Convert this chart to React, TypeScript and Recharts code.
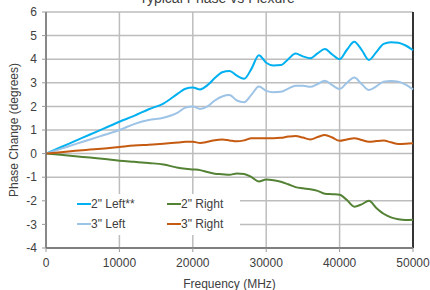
import React from 'react';
import {
  CartesianGrid,
  Label,
  Line,
  LineChart,
  ReferenceLine,
  XAxis,
  YAxis,
} from 'recharts';

const freq = [
  0, 2000, 4000, 6000, 8000, 10000, 12000, 14000, 16000, 18000, 19000, 20000, 21000, 22000,
  23000, 24000, 25000, 26000, 27000, 28000, 29000, 30000, 31000, 32000, 33000, 34000, 35000,
  36000, 37000, 38000, 39000, 40000, 41000, 42000, 43000, 44000, 45000, 46000, 47000, 48000,
  49000, 50000,
];

const left2 = [
  0, 0.27, 0.54, 0.81, 1.08, 1.35, 1.6, 1.88, 2.12, 2.55, 2.75, 2.8, 2.72, 2.9, 3.2, 3.45,
  3.5, 3.3, 3.17, 3.6, 4.17, 3.85, 3.73, 3.75, 4.0, 4.24, 4.12, 4.04, 4.25, 4.43, 4.2, 4.0,
  4.4, 4.74, 4.4, 3.97, 4.3, 4.65, 4.72, 4.7, 4.58, 4.38,
];

const left3 = [
  0, 0.2, 0.4, 0.6, 0.8, 1.0, 1.25, 1.42, 1.52, 1.75, 1.95, 2.0, 1.89, 2.0, 2.25, 2.42,
  2.48, 2.25, 2.18, 2.5, 2.84, 2.66, 2.6, 2.62, 2.75, 2.88, 2.88, 2.83, 2.95, 3.09, 2.9,
  2.74, 3.0, 3.22, 2.95, 2.7, 2.85, 3.05, 3.08, 3.05, 2.92, 2.72,
];

const right2 = [
  0, -0.05, -0.11, -0.17, -0.23, -0.3, -0.35, -0.4, -0.46, -0.6, -0.64, -0.67, -0.7, -0.78,
  -0.85, -0.87, -0.9, -0.84, -0.86, -1.0, -1.18, -1.1, -1.13, -1.19, -1.3, -1.42, -1.47,
  -1.51, -1.58, -1.7, -1.72, -1.74, -1.97, -2.25, -2.15, -2.0, -2.3, -2.55, -2.7, -2.78,
  -2.81, -2.8,
];

const right3 = [
  0, 0.06, 0.12, 0.17, 0.22, 0.28, 0.34, 0.38, 0.42, 0.47, 0.5, 0.5, 0.45, 0.5, 0.57, 0.6,
  0.56, 0.52, 0.56, 0.65, 0.65, 0.65, 0.65, 0.67, 0.72, 0.75, 0.68, 0.6, 0.7, 0.79, 0.68,
  0.54, 0.6, 0.65, 0.58, 0.5, 0.53, 0.55, 0.48, 0.41, 0.42, 0.44,
];

const xTicks = [0, 10000, 20000, 30000, 40000, 50000];
const yTicks = [-4, -3, -2, -1, 0, 1, 2, 3, 4, 5, 6];

const series = [
  { key: 'left2', name: '2" Left**', color: '#00b0f0', values: left2 },
  { key: 'right2', name: '2" Right', color: '#548235', values: right2 },
  { key: 'left3', name: '3" Left', color: '#9dc3e6', values: left3 },
  { key: 'right3', name: '3" Right', color: '#c55a11', values: right3 },
];

const data = freq.map((f, i) => {
  const row: Record<string, number> = { freq: f };
  series.forEach((s) => {
    row[s.key] = s.values[i];
  });
  return row;
});

const font = 'Arial, "Liberation Sans", sans-serif';

// legend drawn straight into the svg so it doesn't eat plot space
const LegendBox = () => (
  <g>
    <rect x={47} y={194} width={193} height={41} fill="#fff" />
    {series.map((s, i) => {
      const x = i % 2 === 0 ? 77 : 167;
      const y = i < 2 ? 204 : 224;
      return (
        <g key={s.key}>
          <line x1={x} x2={x + 14} y1={y} y2={y} stroke={s.color} strokeWidth={2} />
          <text x={x + 14} y={y + 4} fontFamily={font} fontSize={12} fill="#404040">
            {s.name}
          </text>
        </g>
      );
    })}
  </g>
);

export default function App() {
  return (
    <div style={{ position: 'absolute', left: 0, top: 0, width: 430, height: 290, background: '#fff' }}>
      <LineChart
        width={430}
        height={290}
        data={data}
        margin={{ top: 12, right: 17, bottom: 0, left: 0 }}
      >
        <text x={217} y={3} textAnchor="middle" fontFamily={font} fontSize={14} fill="#404040">
          Typical Phase vs Flexure
        </text>
        <CartesianGrid stroke="#bdbdbd" strokeWidth={1.5} />
        <XAxis
          dataKey="freq"
          type="number"
          domain={[0, 50000]}
          ticks={xTicks}
          height={42}
          tick={{ fontSize: 12, fill: '#404040', fontFamily: font, dy: 4 }}
          tickLine={{ stroke: '#9a9a9a' }}
          tickSize={4}
          axisLine={{ stroke: '#7f7f7f', strokeWidth: 2 }}
          interval={0}
        >
          <Label
            value="Frequency (MHz)"
            position="insideBottom"
            offset={2}
            style={{ fontSize: 12, fill: '#404040', fontFamily: font }}
          />
        </XAxis>
        <YAxis
          type="number"
          domain={[-4, 6]}
          ticks={yTicks}
          width={46}
          tick={{ fontSize: 12, fill: '#404040', fontFamily: font, dx: -3 }}
          tickLine={{ stroke: '#9a9a9a' }}
          tickSize={4}
          axisLine={{ stroke: '#707070', strokeWidth: 1.5 }}
          interval={0}
        >
          <Label
            value="Phase Change (degrees)"
            angle={-90}
            position="insideLeft"
            offset={14}
            style={{ fontSize: 12, fill: '#404040', fontFamily: font, textAnchor: 'middle' }}
          />
        </YAxis>
        <ReferenceLine x={50000} stroke="#000" strokeWidth={1.5} />
        <LegendBox />
        {series.map((s) => (
          <Line
            key={s.key}
            type="monotone"
            dataKey={s.key}
            name={s.name}
            stroke={s.color}
            strokeWidth={2}
            dot={false}
            isAnimationActive={false}
          />
        ))}
      </LineChart>
    </div>
  );
}
